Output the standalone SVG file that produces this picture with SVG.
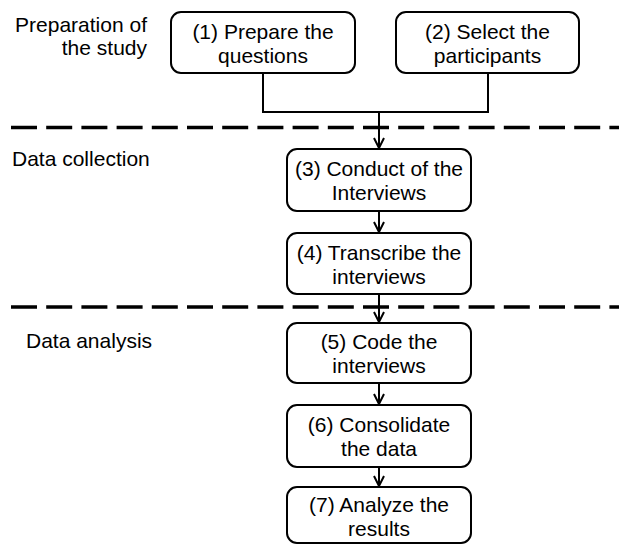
<svg xmlns="http://www.w3.org/2000/svg" width="619" height="544" viewBox="0 0 619 544">
<style>
.box{fill:#fff;stroke:#000;stroke-width:2}
.t{font-family:"Liberation Sans",Arial,sans-serif;font-size:21px;fill:#000;text-anchor:middle}
.lbl{font-family:"Liberation Sans",Arial,sans-serif;font-size:21px;fill:#000}
.c{fill:none;stroke:#000;stroke-width:2}
.dash{stroke:#000;stroke-width:3.5;stroke-dasharray:26 9.2}
</style>
<defs>
<marker id="arr" viewBox="0 0 12 12" refX="11" refY="6" markerWidth="12" markerHeight="12" markerUnits="userSpaceOnUse" orient="auto">
<path d="M1,1 L11,6 L1,11" fill="none" stroke="#000" stroke-width="2"/>
</marker>
</defs>
<rect width="619" height="544" fill="#fff"/>
<g id="separators">
<line class="dash" x1="11" y1="127.5" x2="619" y2="127.5"/>
<line class="dash" x1="11" y1="307" x2="619" y2="307"/>
</g>
<g id="labels">
<text class="lbl" x="147" y="32" text-anchor="end">Preparation of</text>
<text class="lbl" x="147" y="55" text-anchor="end">the study</text>
<text class="lbl" x="12" y="166">Data collection</text>
<text class="lbl" x="26" y="348">Data analysis</text>
</g>
<g id="connectors">
<polyline class="c" points="263,73 263,112 488,112 488,73"/>
<line class="c" x1="379" y1="112" x2="379" y2="148" marker-end="url(#arr)"/>
<line class="c" x1="379" y1="211" x2="379" y2="232" marker-end="url(#arr)"/>
<line class="c" x1="379" y1="294" x2="379" y2="322" marker-end="url(#arr)"/>
<line class="c" x1="379" y1="383" x2="379" y2="404" marker-end="url(#arr)"/>
<line class="c" x1="379" y1="467" x2="379" y2="486" marker-end="url(#arr)"/>
</g>
<g id="n1">
<rect class="box" x="171" y="12" width="184" height="61" rx="10"/>
<text class="t" x="263" y="38.5">(1) Prepare the</text>
<text class="t" x="263" y="62.5">questions</text>
</g>
<g id="n2">
<rect class="box" x="396" y="12" width="183" height="61" rx="10"/>
<text class="t" x="487.5" y="38.5">(2) Select the</text>
<text class="t" x="487.5" y="62.5">participants</text>
</g>
<g id="n3">
<rect class="box" x="287" y="149" width="184" height="62" rx="10"/>
<text class="t" x="379" y="176">(3) Conduct of the</text>
<text class="t" x="379" y="200">Interviews</text>
</g>
<g id="n4">
<rect class="box" x="287" y="233" width="184" height="61" rx="10"/>
<text class="t" x="379" y="259.5">(4) Transcribe the</text>
<text class="t" x="379" y="283.5">interviews</text>
</g>
<g id="n5">
<rect class="box" x="287" y="323" width="184" height="60" rx="10"/>
<text class="t" x="379" y="349">(5) Code the</text>
<text class="t" x="379" y="373">interviews</text>
</g>
<g id="n6">
<rect class="box" x="287" y="405" width="184" height="62" rx="10"/>
<text class="t" x="379" y="432">(6) Consolidate</text>
<text class="t" x="379" y="456">the data</text>
</g>
<g id="n7">
<rect class="box" x="287" y="487" width="184" height="56" rx="10"/>
<text class="t" x="379" y="512">(7) Analyze the</text>
<text class="t" x="379" y="536">results</text>
</g>
</svg>
